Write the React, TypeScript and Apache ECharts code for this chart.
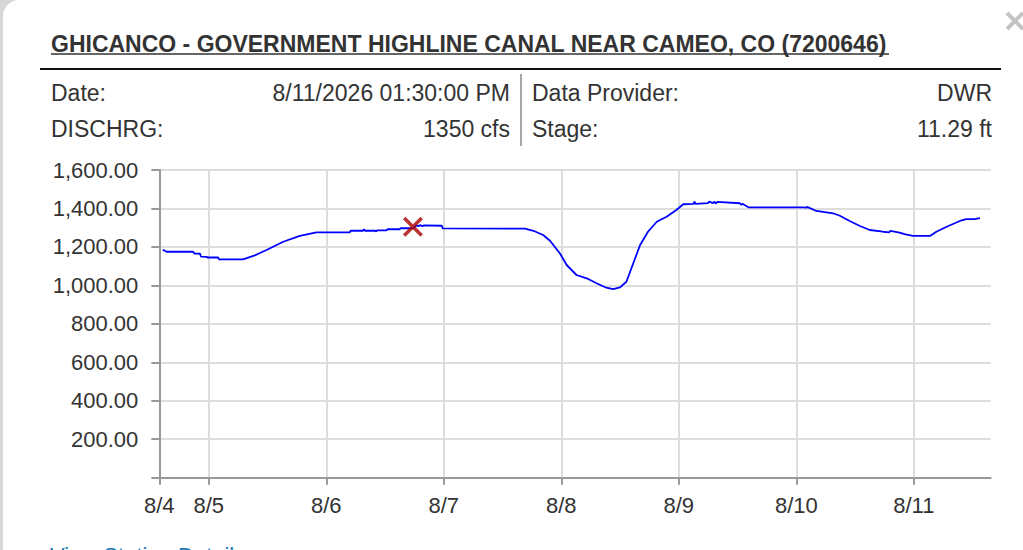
import React, { useEffect, useRef } from "react";
import * as echarts from "echarts";

// Hours since 8/4 00:00
const hours: number[] = [
  14.6, 15.4, 20.8, 21.1, 22.2, 22.4, 23.6, 23.7, 25.9, 26.1, 31.0, 33.1, 35.8, 39.2, 42.6, 46.0,
  52.8, 53.0, 55.5, 55.7, 55.9, 58.0, 58.2, 58.4, 60.3, 60.5, 63.0, 63.2, 65.7, 66.0, 66.4, 66.8,
  67.2, 67.6, 68.0, 71.6, 71.8, 88.6, 90.3, 92.3, 93.7, 95.7, 97.1, 99.1, 101.2, 103.2, 105.2,
  106.6, 108.0, 109.3, 110.7, 112.1, 113.7, 115.5, 117.5, 119.5, 120.9, 123.0, 123.2, 123.4,
  126.0, 126.2, 127.0, 127.2, 127.6, 127.8, 132.5, 132.8, 133.0, 134.2, 145.4, 146.0, 146.2,
  148.1, 151.5, 152.9, 154.9, 157.0, 159.0, 161.7, 163.0, 163.2, 165.1, 166.1, 167.8, 171.3,
  172.6, 174.7, 177.4, 178.7, 180.4, 181.5,
];
const discharge: number[] = [
  1185, 1175, 1175, 1165, 1165, 1150, 1148, 1145, 1145, 1135, 1135, 1153, 1184, 1227, 1257, 1276,
  1276, 1284, 1284, 1292, 1284, 1284, 1280, 1286, 1286, 1292, 1292, 1298, 1297, 1302, 1312, 1308,
  1314, 1308, 1312, 1310, 1296, 1295, 1284, 1262, 1232, 1167, 1106, 1054, 1037, 1011, 988,
  980, 990, 1019, 1115, 1210, 1279, 1331, 1357, 1392, 1422, 1424, 1436, 1424, 1428, 1436, 1428,
  1435, 1426, 1434, 1427, 1418, 1424, 1406, 1406, 1404, 1408, 1387, 1375, 1362, 1335, 1309,
  1288, 1279, 1276, 1284, 1274, 1266, 1257, 1257, 1279, 1305, 1335, 1345, 1345, 1350,
];
const markerPoint: number[] = [65.7, 1305];

const xMin = 13.9;
const xMax = 183.7;
const xTickValues: number[] = [13.9, 24, 48, 72, 96, 120, 144, 168];
const xTickLabels: string[] = ["8/4", "8/5", "8/6", "8/7", "8/8", "8/9", "8/10", "8/11"];

const titleText = "GHICANCO - GOVERNMENT HIGHLINE CANAL NEAR CAMEO, CO (7200646)";
const infoLeft: string[][] = [
  ["Date:", "8/11/2026 01:30:00 PM"],
  ["DISCHRG:", "1350 cfs"],
];
const infoRight: string[][] = [
  ["Data Provider:", "DWR"],
  ["Stage:", "11.29 ft"],
];

const FONT = "'Liberation Sans', Arial, Helvetica, sans-serif";
const TEXT = "#333333";

export default function App() {
  const ref = useRef<HTMLDivElement>(null);

  useEffect(() => {
    if (!ref.current) return;
    const chart = echarts.init(ref.current, undefined, { renderer: "svg" });
    const rowsY = [93, 129];
    const graphics: any[] = [
      {
        type: "text",
        x: 51,
        y: 44,
        style: {
          text: titleText,
          fontFamily: FONT,
          fontSize: 23,
          fontWeight: "bold",
          fill: TEXT,
          textAlign: "left",
          textVerticalAlign: "middle",
        },
      },
      {
        type: "line",
        shape: { x1: 51, y1: 54, x2: 889, y2: 54 },
        style: { stroke: TEXT, lineWidth: 1.5 },
      },
      {
        type: "line",
        shape: { x1: 40, y1: 69, x2: 1001, y2: 69 },
        style: { stroke: "#111111", lineWidth: 2 },
      },
      {
        type: "line",
        shape: { x1: 521, y1: 74, x2: 521, y2: 146 },
        style: { stroke: "#888888", lineWidth: 1.5 },
      },
      {
        type: "line",
        shape: { x1: 1007, y1: 13, x2: 1023, y2: 29 },
        style: { stroke: "#c4c4c4", lineWidth: 4 },
      },
      {
        type: "line",
        shape: { x1: 1023, y1: 13, x2: 1007, y2: 29 },
        style: { stroke: "#c4c4c4", lineWidth: 4 },
      },
      {
        type: "text",
        x: 50,
        y: 544,
        style: {
          text: "View Station Details",
          fontFamily: FONT,
          fontSize: 22,
          fill: "#1f78b4",
          textAlign: "left",
          textVerticalAlign: "top",
        },
      },
    ];
    infoLeft.forEach((row, i) => {
      graphics.push({
        type: "text",
        x: 51,
        y: rowsY[i],
        style: { text: row[0], fontFamily: FONT, fontSize: 23, fill: TEXT, textAlign: "left", textVerticalAlign: "middle" },
      });
      graphics.push({
        type: "text",
        x: 510,
        y: rowsY[i],
        style: { text: row[1], fontFamily: FONT, fontSize: 23, fill: TEXT, textAlign: "right", textVerticalAlign: "middle" },
      });
    });
    infoRight.forEach((row, i) => {
      graphics.push({
        type: "text",
        x: 532,
        y: rowsY[i],
        style: { text: row[0], fontFamily: FONT, fontSize: 23, fill: TEXT, textAlign: "left", textVerticalAlign: "middle" },
      });
      graphics.push({
        type: "text",
        x: 992,
        y: rowsY[i],
        style: { text: row[1], fontFamily: FONT, fontSize: 23, fill: TEXT, textAlign: "right", textVerticalAlign: "middle" },
      });
    });

    const fmt = (v: number) =>
      v === 0 ? "" : v.toLocaleString("en-US", { minimumFractionDigits: 2, maximumFractionDigits: 2 });

    chart.setOption({
      animation: false,
      graphic: graphics,
      grid: { left: 159.3, right: 32.3, top: 170, bottom: 72.3, containLabel: false },
      xAxis: {
        type: "value",
        min: xMin,
        max: xMax,
        axisLine: { show: true, lineStyle: { color: "#999999", width: 2 } },
        axisTick: {
          show: true,
          length: 7,
          customValues: xTickValues,
          lineStyle: { color: "#999999", width: 2 },
        },
        axisLabel: {
          customValues: xTickValues,
          margin: 17,
          fontFamily: FONT,
          fontSize: 22,
          color: TEXT,
          hideOverlap: false,
          formatter: (v: number) => {
            const idx = xTickValues.findIndex((t) => Math.abs(t - v) < 0.01);
            return idx >= 0 ? xTickLabels[idx] : "";
          },
        },
        splitLine: { show: true, lineStyle: { color: "#dddddd", width: 2 } },
      },
      yAxis: {
        type: "value",
        min: 0,
        max: 1600,
        interval: 200,
        axisLine: { show: true, lineStyle: { color: "#999999", width: 2 } },
        axisTick: { show: true, length: 8, lineStyle: { color: "#999999", width: 2 } },
        axisLabel: {
          margin: 21,
          fontFamily: FONT,
          fontSize: 22,
          color: TEXT,
          formatter: fmt,
        },
        splitLine: { show: true, lineStyle: { color: "#dddddd", width: 2 } },
      },
      series: [
        {
          type: "line",
          data: hours.map((h, i) => [h, discharge[i]]),
          showSymbol: false,
          lineStyle: { color: "#0000ff", width: 1.8 },
          z: 3,
        },
        {
          type: "scatter",
          data: [markerPoint],
          symbol: "path://M2.5,0 L10,7.5 L17.5,0 L20,2.5 L12.5,10 L20,17.5 L17.5,20 L10,12.5 L2.5,20 L0,17.5 L7.5,10 L0,2.5 Z",
          symbolSize: 20,
          itemStyle: { color: "#aa0000" },
          z: 4,
        },
      ],
    });
    return () => chart.dispose();
  }, []);

  return (
    <div style={{ position: "fixed", left: 0, top: 0, width: 1023, height: 550, background: "#d6d6d6", overflow: "hidden" }}>
      <div
        style={{
          position: "absolute",
          left: 3,
          top: 0,
          width: 1020,
          height: 550,
          background: "#ffffff",
          borderTopLeftRadius: 16,
        }}
      />
      <div ref={ref} style={{ position: "absolute", left: 0, top: 0, width: 1023, height: 550 }} />
    </div>
  );
}
